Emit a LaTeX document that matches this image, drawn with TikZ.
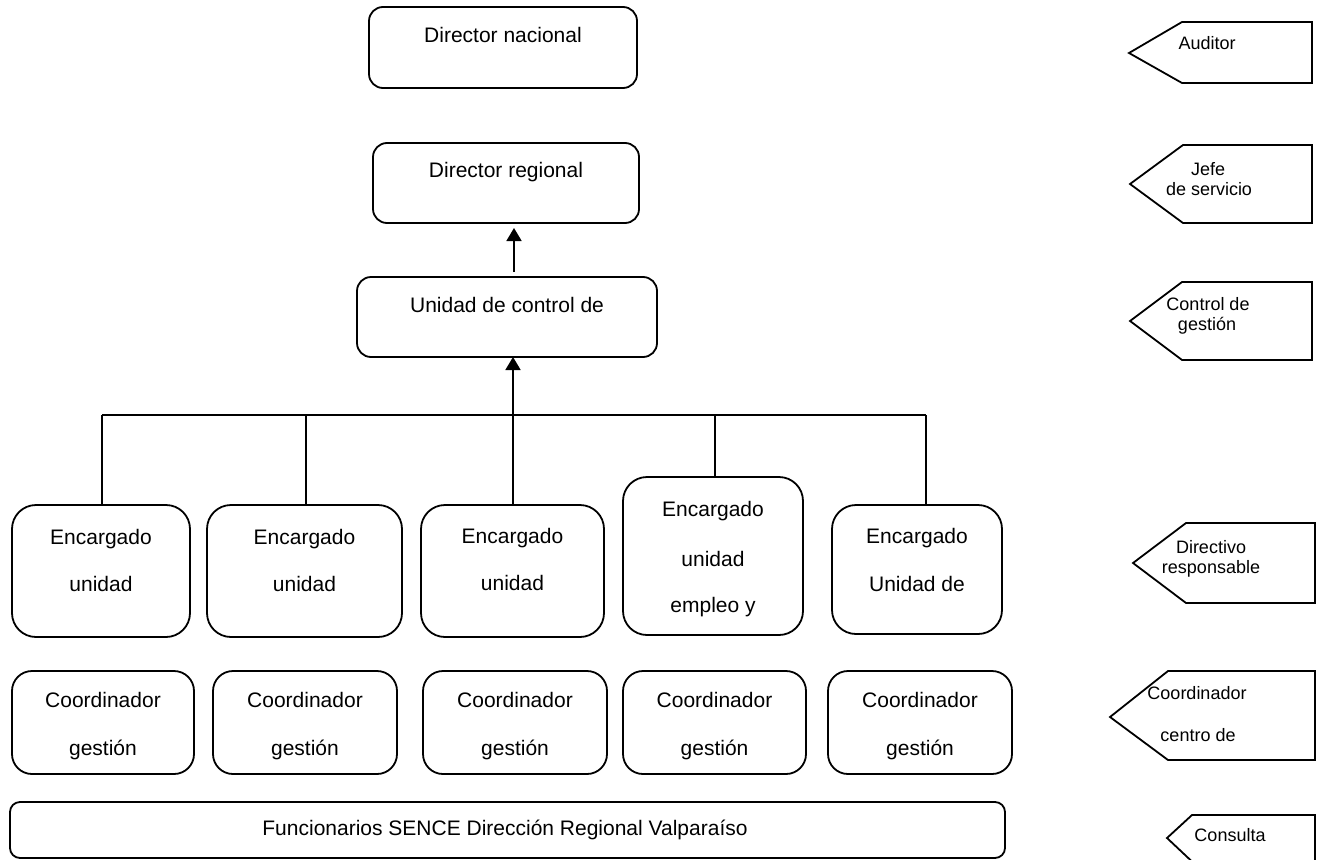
\documentclass[tikz,border=0pt]{standalone}
\usepackage{fontspec}
\setmainfont{Liberation Sans}
\usetikzlibrary{arrows.meta,calc}

\tikzset{
  box/.style={draw, line width=1.8pt, inner sep=0pt, outer sep=0pt},
  lbl/.style={anchor=base, inner sep=0pt, font=\fontsize{21}{25}\selectfont},
  tag/.style={draw, line width=1.8pt, line join=miter},
  taglbl/.style={anchor=base, inner sep=0pt, font=\fontsize{18}{21}\selectfont},
  link/.style={line width=1.8pt},
  uparrow/.style={line width=1.8pt, -{Triangle[length=13pt,width=15pt]}}
}

% box with top-left (#1,#2), bottom-right (#3,#4)
\newcommand{\orgbox}[6]{%
  \node[box, rounded corners=#5, minimum width={(#3)-(#1)}, minimum height={(#4)-(#2)}]
    (#6) at ({((#1)+(#3))/2},{((#2)+(#4))/2}) {};}

\begin{document}
\begin{tikzpicture}[x=1pt, y=-1pt]
\useasboundingbox (0,0) rectangle (1321,859);

% top of the hierarchy
\orgbox{369}{7}{637}{88}{14pt}{dn}
\node[lbl] at (dn.center |- 0,42) {Director nacional};
\orgbox{373}{143}{639}{223}{14pt}{dr}
\node[lbl] at (dr.center |- 0,177) {Director regional};
\orgbox{357}{277}{657}{357}{14pt}{uc}
\node[lbl] at (uc.center |- 0,312) {Unidad de control de};

% unit managers
\orgbox{12}{505}{190}{637}{24pt}{e1}
\node[lbl] at (e1.center |- 0,544) {Encargado};
\node[lbl] at (e1.center |- 0,591) {unidad};
\orgbox{207}{505}{402}{637}{24pt}{e2}
\node[lbl] at (e2.center |- 0,544) {Encargado};
\node[lbl] at (e2.center |- 0,591) {unidad};
\orgbox{421}{505}{604}{637}{24pt}{e3}
\node[lbl] at (e3.center |- 0,543) {Encargado};
\node[lbl] at (e3.center |- 0,590) {unidad};
\orgbox{623}{477}{803}{635}{24pt}{e4}
\node[lbl] at (e4.center |- 0,516) {Encargado};
\node[lbl] at (e4.center |- 0,566) {unidad};
\node[lbl] at (e4.center |- 0,612) {empleo y};
\orgbox{832}{505}{1002}{634}{24pt}{e5}
\node[lbl] at (e5.center |- 0,543) {Encargado};
\node[lbl] at (e5.center |- 0,591) {Unidad de};

% coordinators
\orgbox{12}{671}{194}{774}{20pt}{c1}
\orgbox{213}{671}{397}{774}{20pt}{c2}
\orgbox{423}{671}{607}{774}{20pt}{c3}
\orgbox{623}{671}{806}{774}{20pt}{c4}
\orgbox{828}{671}{1012}{774}{20pt}{c5}
\foreach \c in {c1,c2,c3,c4,c5}{
  \node[lbl] at (\c.center |- 0,707) {Coordinador};
  \node[lbl] at (\c.center |- 0,755) {gestión};
}

% staff
\orgbox{10}{802}{1005}{858}{10pt}{fs}
\node[lbl] at (505,835) {Funcionarios SENCE Dirección Regional Valparaíso};

% connectors
\coordinate (j1) at (102,415);
\coordinate (j2) at (306,415);
\coordinate (j3) at (513,415);
\coordinate (j4) at (715,415);
\coordinate (j5) at (926,415);
\coordinate (a0) at (514,272);
\draw[link] (j1) -- (j5);
\draw[link] (j1) -- (j1 |- e1.north);
\draw[link] (j2) -- (j2 |- e2.north);
\draw[link] (j4) -- (j4 |- e4.north);
\draw[link] (j5) -- (j5 |- e5.north);
\draw[uparrow] (j3 |- e3.north) -- (j3 |- uc.south);
\draw[uparrow, shorten >=5pt] (a0) -- (a0 |- dr.south);

% role tags on the right
\draw[tag] (1129,53) -- (1182,22) -- (1312,22) -- (1312,83) -- (1182,83) -- cycle;
\node[taglbl] at (1207,49) {Auditor};

\draw[tag] (1130,184) -- (1183,145) -- (1312,145) -- (1312,223) -- (1183,223) -- cycle;
\node[taglbl] at (1208,175) {Jefe};
\node[taglbl] at (1209,195) {de servicio};

\draw[tag] (1130,321) -- (1182,282) -- (1312,282) -- (1312,360) -- (1182,360) -- cycle;
\node[taglbl] at (1208,310) {Control de};
\node[taglbl] at (1207,330) {gestión};

\draw[tag] (1133,563) -- (1186,523) -- (1315,523) -- (1315,603) -- (1186,603) -- cycle;
\node[taglbl] at (1211,553) {Directivo};
\node[taglbl] at (1211,573) {responsable};

\draw[tag] (1110,717) -- (1168,671) -- (1315,671) -- (1315,760) -- (1168,760) -- cycle;
\node[taglbl] at (1197,699) {Coordinador};
\node[taglbl] at (1198,741) {centro de};

\begin{scope}
\clip (0,0) rectangle (1321,859);
\draw[tag] (1167,838) -- (1192,815) -- (1315,815) -- (1315,870) -- (1201,870) -- cycle;
\end{scope}
\node[taglbl] at (1230,841) {Consulta};
\end{tikzpicture}
\end{document}
